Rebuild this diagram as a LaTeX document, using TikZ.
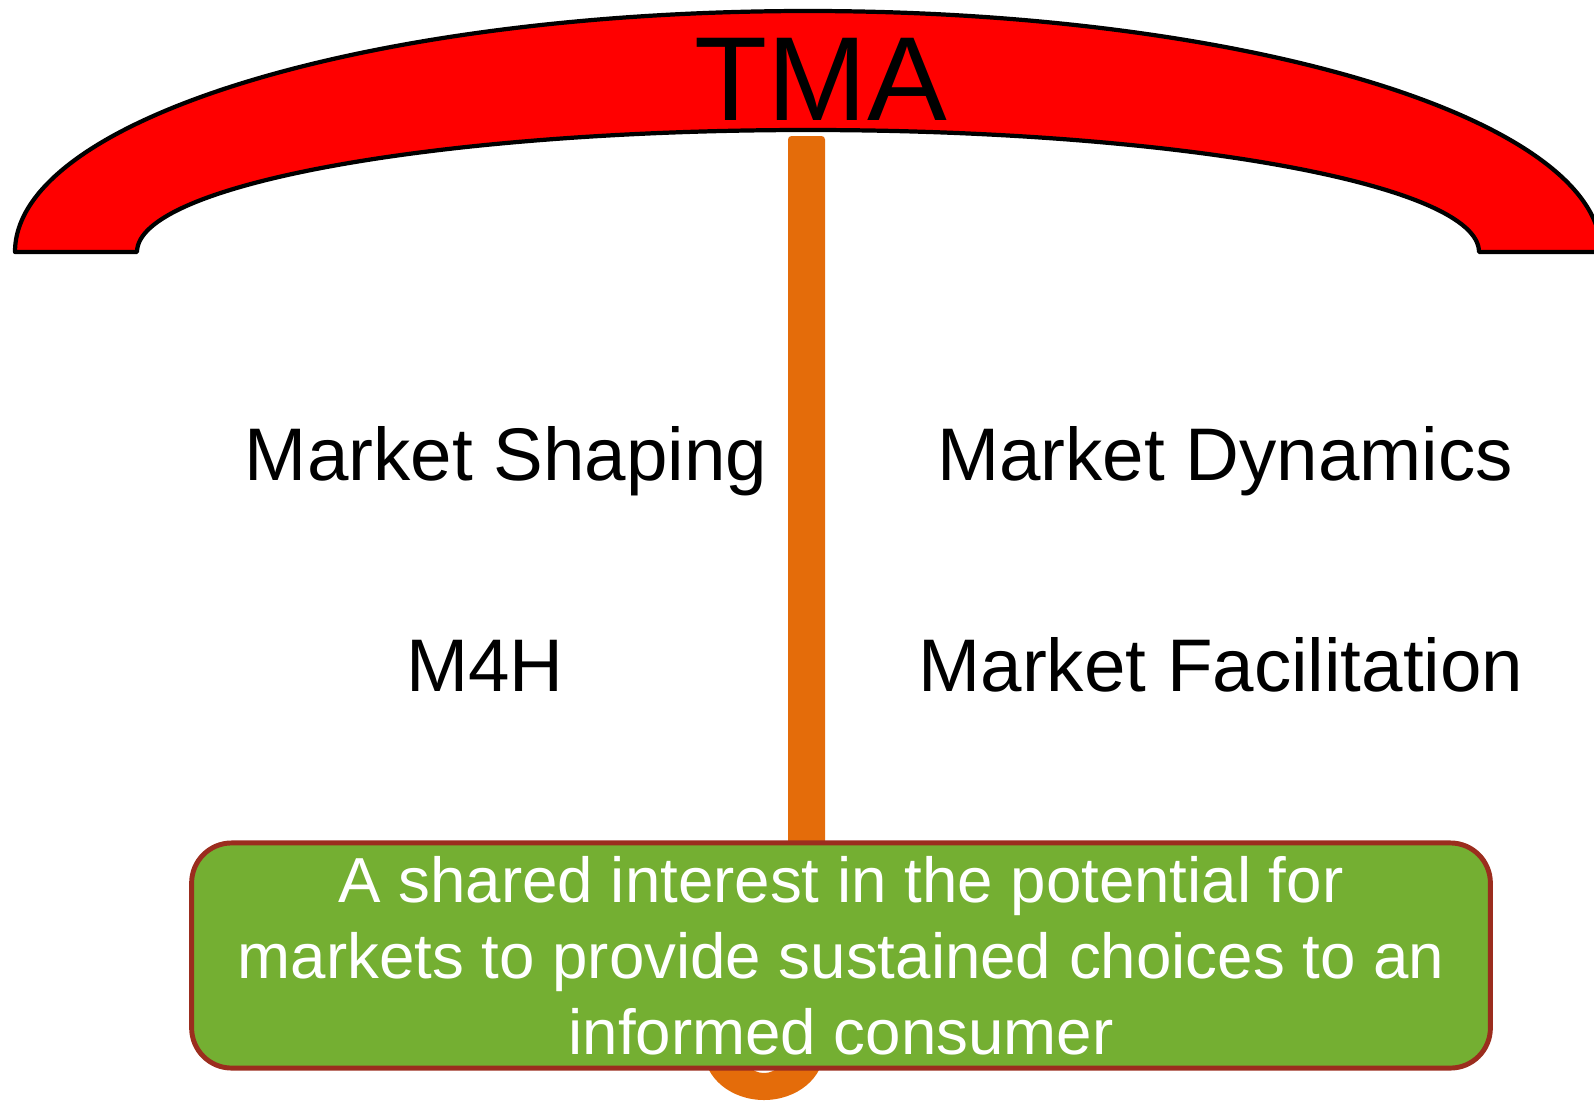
\documentclass[tikz,border=0pt]{standalone}
\usepackage{fontspec}
\setmainfont{Liberation Sans}
\usepackage{tikz}
\usetikzlibrary{calc}

\definecolor{canopyred}{RGB}{255,0,0}
\definecolor{handleorange}{RGB}{228,108,10}
\definecolor{goalgreen}{RGB}{116,175,50}
\definecolor{goalborder}{RGB}{155,45,30}

\begin{document}
\begin{tikzpicture}[x=0.01cm, y=-0.01cm,
    umbrella/.style={fill=canopyred, draw=black, line width=1.2pt, line join=round},
    handle/.style={fill=handleorange},
    label/.style={anchor=base, font=\fontsize{21.2}{25}\selectfont},
    goalbox/.style={draw=goalborder, line width=1.4pt, fill=goalgreen, rounded corners=0.4cm,
        minimum width=12.98cm, minimum height=2.25cm, text=white, align=center,
        font=\fontsize{18.1}{21.6}\selectfont}]
            \useasboundingbox (0,0) rectangle (1594,1103);
            \coordinate (shaping) at (506,480);
            \coordinate (dynamics) at (1225,480);
            \coordinate (mfh) at (485,691);
            \coordinate (facil) at (1221,691);
            \coordinate (top) at (821,120);
            % handle and hook
            \fill[handle, rounded corners=1pt] (788,136) rectangle (825,1050);
            \fill[handle] (704,1050) arc[start angle=180, end angle=0, x radius=60, y radius=50]
                -- (786,1050) arc[start angle=0, end angle=180, x radius=22, y radius=23] -- cycle;
            % canopy
            \filldraw[umbrella] (15,252) arc[start angle=180, end angle=360, x radius=793, y radius=241]
                -- (1479,252) arc[start angle=0, end angle=-180, x radius=671, y radius=122] -- cycle;
            \node (tma) at (top) [anchor=base, font=\fontsize{34}{40}\selectfont] {TMA};
            \node (ms) at (shaping) [label] {Market Shaping};
            \node (md) at (dynamics) [label] {Market Dynamics};
            \node (mh) at (mfh) [label] {M4H};
            \node (mf) at (facil) [label] {Market Facilitation};
            \node (goal) at (841,955.5) [goalbox] {A shared interest in the potential for\\
                markets to provide sustained choices to an\\ informed consumer};
        \end{tikzpicture}
\end{document}
